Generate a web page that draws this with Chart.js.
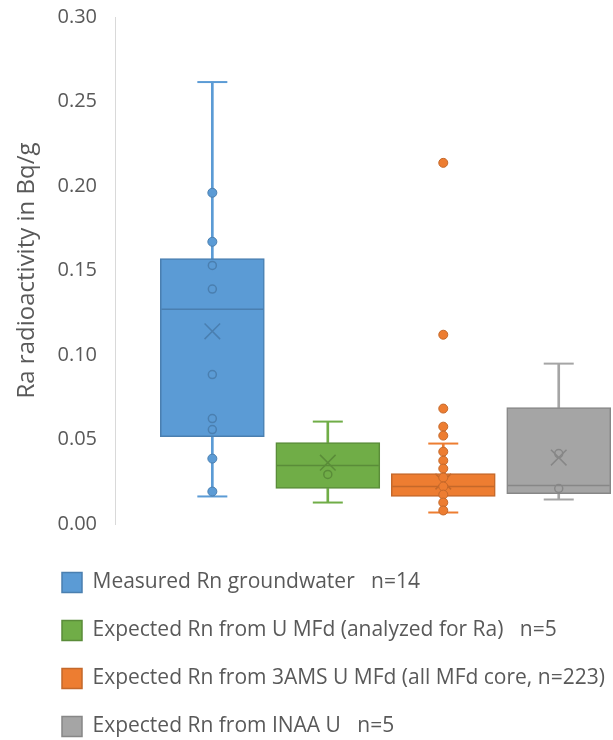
<!DOCTYPE html>
<html>
<head>
<meta charset="utf-8">
<script src="https://cdn.jsdelivr.net/npm/chart.js@4.4.1/dist/chart.umd.min.js"></script>
<style>
  html, body { margin: 0; padding: 0; background: #fff; overflow: hidden; }
  #wrap { width: 613px; height: 747px; }
</style>
</head>
<body>
<div id="wrap"><canvas id="boxChart"></canvas></div>
<script>
// Series names as shown in the legend
const seriesNames = [
    'Measured Rn groundwater   n=14',
    'Expected Rn from U MFd (analyzed for Ra)   n=5',
    'Expected Rn from 3AMS U MFd (all MFd core, n=223)',
    'Expected Rn from INAA U   n=5'
];
const seriesSlot = [1, 2, 3, 4];

// Box statistics (Bq/g)
const q1 = [0.0517, 0.0210, 0.0163, 0.0180];
const q3 = [0.1570, 0.0482, 0.0298, 0.0689];
const medians = [0.127, 0.0346, 0.0222, 0.0228];
const means = [0.114, 0.0363, 0.0251, 0.0393];
const whiskerLow = [0.0163, 0.0127, 0.0068, 0.0145];
const whiskerHigh = [0.2615, 0.0606, 0.0476, 0.0949];

// Individual samples: hollow markers and filled markers
const hollowPoints = [
    [0.153, 0.139, 0.0884, 0.0624, 0.0559],
    [0.0293],
    [],
    [0.0417, 0.0210]
];
const filledPoints = [
    [0.196, 0.167, 0.0387, 0.0192],
    [],
    [0.2137, 0.112, 0.0683, 0.0576, 0.0523, 0.0428, 0.0375, 0.0328, 0.0275,
     0.0222, 0.0174, 0.0127, 0.008],
    []
];

const yTicks = [0, 0.05, 0.10, 0.15, 0.20, 0.25, 0.30];

const fills = ['#5B9BD5', '#70AD47', '#ED7D31', '#A5A5A5'];
const edges = ['#4A7FB0', '#5A8C39', '#C4682A', '#878787'];
const textColor = '#595959';
const fontFamily = '"Open Sans", "Liberation Sans", sans-serif';

const datasets = [];

// boxes (these four also make up the legend)
seriesNames.forEach((name, i) => {
    datasets.push({
        type: 'bar',
        label: name,
        data: [{ x: seriesSlot[i], y: [q1[i], q3[i]] }],
        backgroundColor: fills[i],
        borderColor: edges[i],
        borderWidth: 1.5,
        borderSkipped: false,
        barThickness: 104,
        categoryPercentage: 1,
        barPercentage: 1,
        grouped: false,
        order: 3
    });
});

// whisker stems
seriesNames.forEach((name, i) => {
    datasets.push({
        type: 'bar',
        label: 'whisker',
        data: [
            { x: seriesSlot[i], y: [q3[i], whiskerHigh[i]] },
            { x: seriesSlot[i], y: [whiskerLow[i], q1[i]] }
        ],
        backgroundColor: fills[i],
        borderWidth: 0,
        barThickness: 2,
        categoryPercentage: 1,
        barPercentage: 1,
        grouped: false,
        order: 4
    });
});

// whisker caps, medians, means and samples
seriesNames.forEach((name, i) => {
    const x = seriesSlot[i];
    datasets.push({
        type: 'scatter',
        label: 'caps',
        data: [{ x, y: whiskerHigh[i] }, { x, y: whiskerLow[i] }],
        pointStyle: 'line',
        pointRadius: 15,
        borderColor: fills[i],
        borderWidth: 2,
        order: 2
    });
    datasets.push({
        type: 'scatter',
        label: 'median',
        data: [{ x, y: medians[i] }],
        pointStyle: 'line',
        pointRadius: 51,
        borderColor: edges[i],
        borderWidth: 1.5,
        order: 2
    });
    datasets.push({
        type: 'scatter',
        label: 'mean',
        data: [{ x, y: means[i] }],
        pointStyle: 'crossRot',
        pointRadius: 11,
        borderColor: edges[i],
        borderWidth: 1.5,
        order: 1
    });
    datasets.push({
        type: 'scatter',
        label: 'inner',
        data: hollowPoints[i].map(v => ({ x, y: v })),
        pointStyle: 'circle',
        pointRadius: 4,
        backgroundColor: 'rgba(0,0,0,0)',
        borderColor: edges[i],
        borderWidth: 1.5,
        order: 0
    });
    datasets.push({
        type: 'scatter',
        label: 'outer',
        data: filledPoints[i].map(v => ({ x, y: v })),
        pointStyle: 'circle',
        pointRadius: 4.5,
        backgroundColor: fills[i],
        borderColor: edges[i],
        borderWidth: 1,
        order: 0
    });
});

Chart.defaults.font.family = fontFamily;
Chart.defaults.color = textColor;

new Chart(document.getElementById('boxChart'), {
    type: 'bar',
    data: { datasets },
    options: {
        responsive: true,
        maintainAspectRatio: false,
        animation: false,
        events: [],
        layout: {
            autoPadding: false,
            padding: { top: 17, left: 35, right: 0, bottom: 0 }
        },
        scales: {
            x: {
                type: 'linear',
                offset: false,
                min: 0.157,
                max: 4.47,
                grid: { display: false },
                border: { display: false },
                ticks: { display: false },
                afterFit: s => { s.height = 21; }
            },
            y: {
                min: 0,
                max: 0.3,
                grid: { display: false, drawTicks: false },
                border: { display: true, color: '#D9D9D9', width: 1 },
                afterBuildTicks: s => { s.ticks = yTicks.map(v => ({ value: v })); },
                ticks: {
                    padding: 18,
                    color: textColor,
                    font: { size: 20 },
                    callback: v => v.toFixed(2)
                },
                title: {
                    display: true,
                    text: 'Ra radioactivity in Bq/g',
                    color: textColor,
                    font: { size: 24 },
                    padding: { top: -22, bottom: 0 }
                },
                afterFit: s => {
                    s.width = 80;
                    s.paddingTop = 0;
                    s.paddingBottom = 0;
                }
            }
        },
        plugins: {
            tooltip: { enabled: false },
            legend: {
                position: 'bottom',
                align: 'start',
                labels: {
                    boxWidth: 20,
                    boxHeight: 20,
                    padding: 27,
                    color: textColor,
                    font: { size: 21 },
                    filter: item => item.datasetIndex < 4
                }
            }
        }
    }
});
</script>
</body>
</html>
